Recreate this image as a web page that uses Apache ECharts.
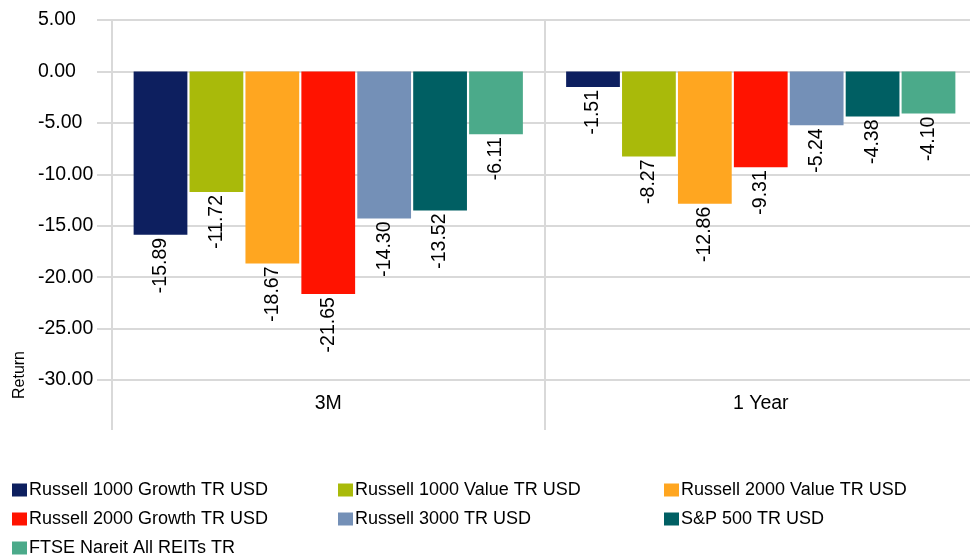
<!DOCTYPE html>
<html>
<head>
<meta charset="utf-8">
<script src="https://cdn.jsdelivr.net/npm/echarts@6/dist/echarts.min.js"></script>
<style>html,body{margin:0;padding:0;background:#fff}#c{width:970px;height:558px}</style>
</head>
<body>
<div id="c"></div>
<script>
var categories = ['3M', '1 Year'];
var seriesNames = ['Russell 1000 Growth TR USD', 'Russell 1000 Value TR USD', 'Russell 2000 Value TR USD', 'Russell 2000 Growth TR USD', 'Russell 3000 TR USD', 'S&P 500 TR USD', 'FTSE Nareit All REITs TR'];
var r1000Growth = [-15.89, -1.51];
var r1000Value = [-11.72, -8.27];
var r2000Value = [-18.67, -12.86];
var r2000Growth = [-21.65, -9.31];
var r3000 = [-14.30, -5.24];
var sp500 = [-13.52, -4.38];
var reits = [-6.11, -4.10];
var yTicks = [5, 0, -5, -10, -15, -20, -25, -30];

var seriesData = [r1000Growth, r1000Value, r2000Value, r2000Growth, r3000, sp500, reits];
var colors = ['#0D1F5F', '#A9BA0A', '#FFA620', '#FF1300', '#7490B7', '#005F63', '#4BAA8A'];
var FONT = 'Liberation Sans, Arial, sans-serif';
var grid = '#d9d9d9';

var chart = echarts.init(document.getElementById('c'));

var series = seriesNames.map(function (n, i) {
  return {
    name: n,
    type: 'bar',
    data: seriesData[i],
    barGap: '4%',
    barCategoryGap: '10%',
    itemStyle: { color: colors[i] },
    label: {
      show: true,
      position: 'bottom',
      distance: 3,
      rotate: 90,
      align: 'right',
      verticalAlign: 'middle',
      fontFamily: FONT,
      fontSize: 19.5,
      color: '#000',
      formatter: function (p) { return p.value.toFixed(2); }
    }
  };
});

var legendPos = [
  [12, 481], [338, 481], [664, 481],
  [12, 510], [338, 510], [664, 510],
  [12, 539]
];
var legends = seriesNames.map(function (n, i) {
  return {
    data: [n],
    left: legendPos[i][0],
    top: legendPos[i][1],
    padding: 0,
    icon: 'rect',
    itemWidth: 15,
    itemHeight: 13,
    selectedMode: false,
    textStyle: { fontFamily: FONT, fontSize: 18, color: '#000', padding: [0, 0, 0, -3] }
  };
});

chart.setOption({
  animation: false,
  backgroundColor: '#fff',
  color: colors,
  grid: { left: 112, width: 865, top: 20, height: 360, containLabel: false, outerBoundsMode: 'none' },
  legend: legends,
  xAxis: {
    type: 'category',
    data: categories,
    axisLine: { show: true, onZero: false, lineStyle: { color: grid, width: 2 } },
    axisTick: { show: true, length: 50, lineStyle: { color: grid, width: 2 } },
    splitLine: { show: true, lineStyle: { color: grid, width: 2 } },
    axisLabel: { fontFamily: FONT, fontSize: 19.5, color: '#000', margin: 14 }
  },
  yAxis: {
    type: 'value',
    min: -30,
    max: 5,
    interval: 5,
    axisLine: { show: true, lineStyle: { color: grid, width: 2 } },
    axisTick: { show: true, length: 15, lineStyle: { color: grid, width: 2 } },
    splitLine: { show: true, lineStyle: { color: grid, width: 2 } },
    axisLabel: {
      fontFamily: FONT, fontSize: 19.5, color: '#000', margin: 74, align: 'left',
      formatter: function (v) { return yTicks.indexOf(v) >= 0 ? v.toFixed(2) : ''; }
    }
  },
  graphic: [{
    type: 'text',
    x: 20, y: 375,
    rotation: Math.PI / 2,
    style: { text: 'Return', fontFamily: FONT, fontSize: 16, fill: '#000', align: 'center', verticalAlign: 'middle' }
  }],
  series: series
});
</script>
</body>
</html>
